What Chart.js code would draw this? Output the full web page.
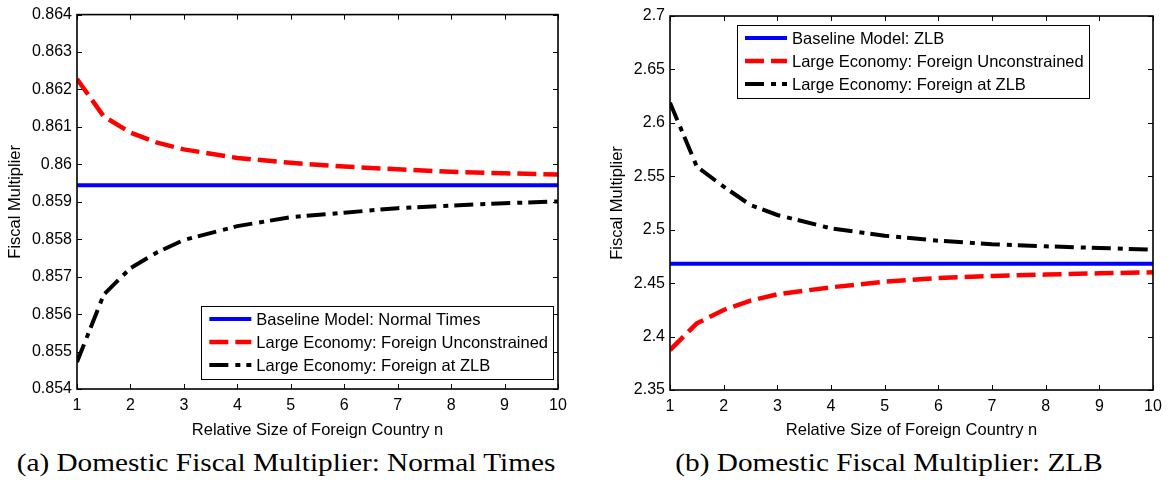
<!DOCTYPE html>
<html>
<head>
<meta charset="utf-8">
<script src="https://cdn.jsdelivr.net/npm/chart.js@4.4.1/dist/chart.umd.min.js"></script>
<style>
  html, body { margin: 0; padding: 0; background: #fff; width: 1169px; height: 482px; overflow: hidden; position: relative; }
  .box { position: absolute; top: 0; height: 440px; }
  #boxA { left: 0; width: 580px; }
  #boxB { left: 585px; width: 584px; }
  .cap { position: absolute; top: 449px; font-family: "Liberation Serif", serif; font-size: 25px; color: #000; white-space: nowrap; transform: translateX(-50%) scaleX(1.17); }
</style>
</head>
<body>
<div class="box" id="boxA"><canvas id="chartA"></canvas></div>
<div class="box" id="boxB"><canvas id="chartB"></canvas></div>
<div class="cap" style="left:286px">(a) Domestic Fiscal Multiplier: Normal Times</div>
<div class="cap" style="left:889px">(b) Domestic Fiscal Multiplier: ZLB</div>
<script>
// relative size of foreign country n
const sizes = [1, 1.5, 2, 2.5, 3, 4, 5, 6, 7, 8, 9, 10];

// (a) normal times
const baselineA = [0.85944, 0.85944, 0.85944, 0.85944, 0.85944, 0.85944, 0.85944, 0.85944, 0.85944, 0.85944, 0.85944, 0.85944];
const unconstrainedA = [0.86228, 0.86128, 0.86085, 0.86058, 0.86040, 0.86017, 0.86004, 0.85994, 0.85987, 0.85980, 0.85976, 0.85973];
const foreignZlbA = [0.85472, 0.85652, 0.85723, 0.85765, 0.85798, 0.85835, 0.85859, 0.85871, 0.85883, 0.85890, 0.85896, 0.85901];

// (b) ZLB
const baselineB = [2.4682, 2.4682, 2.4682, 2.4682, 2.4682, 2.4682, 2.4682, 2.4682, 2.4682, 2.4682, 2.4682, 2.4682];
const unconstrainedB = [2.3874, 2.4124, 2.4249, 2.4336, 2.4396, 2.4461, 2.4514, 2.4548, 2.4567, 2.4580, 2.4592, 2.4601];
const foreignZlbB = [2.6189, 2.5590, 2.5403, 2.5231, 2.5138, 2.5013, 2.4944, 2.4897, 2.4864, 2.4845, 2.4829, 2.4813];

const xTicks = [1, 2, 3, 4, 5, 6, 7, 8, 9, 10];
const yTicksA = [0.854, 0.855, 0.856, 0.857, 0.858, 0.859, 0.86, 0.861, 0.862, 0.863, 0.864];
const yTicksB = [2.35, 2.4, 2.45, 2.5, 2.55, 2.6, 2.65, 2.7];

const pts = ys => sizes.map((n, i) => ({ x: n, y: ys[i] }));

// matlab style box with inward ticks on all sides
const framePlugin = {
  id: 'frame',
  afterDatasetsDraw(chart) {
    const { ctx, chartArea: a, scales: { x, y } } = chart;
    ctx.save();
    ctx.strokeStyle = '#000';
    ctx.lineWidth = 1;
    ctx.beginPath();
    x.ticks.forEach(t => {
      const px = Math.round(x.getPixelForValue(t.value)) + 0.5;
      ctx.moveTo(px, a.bottom); ctx.lineTo(px, a.bottom - 5);
      ctx.moveTo(px, a.top); ctx.lineTo(px, a.top + 5);
    });
    y.ticks.forEach(t => {
      const py = Math.round(y.getPixelForValue(t.value)) + 0.5;
      ctx.moveTo(a.left, py); ctx.lineTo(a.left + 5, py);
      ctx.moveTo(a.right, py); ctx.lineTo(a.right - 5, py);
    });
    ctx.stroke();
    ctx.lineWidth = 1.6;
    ctx.strokeRect(a.left, a.top, a.right - a.left, a.bottom - a.top);
    ctx.restore();
  }
};

// legend box drawn inside the axes
const boxLegend = {
  id: 'boxLegend',
  afterDraw(chart, args, opts) {
    const { ctx, chartArea: a } = chart;
    ctx.save();
    ctx.font = '16.5px "Liberation Sans", Arial, sans-serif';
    const sets = chart.data.datasets;
    const tw = Math.max(...sets.map(d => ctx.measureText(d.label).width));
    const w = 8 + 42 + 5 + tw + 5, h = 73;
    let bx, by;
    if (opts.anchor === 'se') { bx = a.right + opts.dx - w; by = a.bottom + opts.dy - h; }
    else { bx = a.left + opts.dx; by = a.top + opts.dy; }
    ctx.fillStyle = '#fff';
    ctx.fillRect(bx, by, w, h);
    ctx.strokeStyle = '#000';
    ctx.lineWidth = 1;
    ctx.strokeRect(Math.round(bx) + 0.5, Math.round(by) + 0.5, Math.round(w), h);
    sets.forEach((d, i) => {
      const cy = by + 13 + i * 23;
      ctx.beginPath();
      ctx.setLineDash(d.borderDash || []);
      ctx.strokeStyle = d.borderColor;
      ctx.lineWidth = d.borderWidth;
      ctx.moveTo(bx + 8, cy); ctx.lineTo(bx + 50, cy);
      ctx.stroke();
      ctx.setLineDash([]);
      ctx.fillStyle = '#000';
      ctx.textBaseline = 'middle';
      ctx.fillText(d.label, bx + 55, cy + 1);
    });
    ctx.restore();
  }
};

function makeChart(id, base, unc, zlb, baseLabel, yTicks, digits, yWidth, xHeight, pad, legend, titlePad) {
  return new Chart(document.getElementById(id), {
    type: 'scatter',
    data: {
      datasets: [
        { label: baseLabel, data: pts(base), showLine: true, borderColor: '#0000ff', borderWidth: 4, pointRadius: 0 },
        { label: 'Large Economy: Foreign Unconstrained', data: pts(unc), showLine: true, borderColor: '#ff0000', borderWidth: 4.5, borderDash: [19, 7], pointRadius: 0 },
        { label: 'Large Economy: Foreign at ZLB', data: pts(zlb), showLine: true, borderColor: '#000000', borderWidth: 4, borderDash: [19, 7, 5, 6], pointRadius: 0 }
      ]
    },
    options: {
      responsive: true,
      maintainAspectRatio: false,
      animation: false,
      layout: { padding: pad },
      plugins: { legend: { display: false }, tooltip: { enabled: false }, boxLegend: legend },
      scales: {
        x: {
          type: 'linear', min: 1, max: 10,
          afterBuildTicks: s => { s.ticks = xTicks.map(v => ({ value: v })); },
          afterFit: s => { s.height = xHeight; },
          grid: { display: false, drawTicks: false },
          border: { display: false },
          ticks: { color: '#000', padding: 7, font: { family: '"Liberation Sans", Arial, sans-serif', size: 16 } },
          title: { display: true, text: 'Relative Size of Foreign Country n', color: '#000', padding: { top: 0, bottom: 0 }, font: { family: '"Liberation Sans", Arial, sans-serif', size: 16.5 } }
        },
        y: {
          type: 'linear', min: yTicks[0], max: yTicks[yTicks.length - 1],
          afterBuildTicks: s => { s.ticks = yTicks.map(v => ({ value: v })); },
          afterFit: s => { s.width = yWidth; },
          grid: { display: false, drawTicks: false },
          border: { display: false },
          ticks: { color: '#000', padding: 5, font: { family: '"Liberation Sans", Arial, sans-serif', size: 16 }, callback: v => String(+v.toFixed(digits)) },
          title: { display: true, text: 'Fiscal Multiplier', color: '#000', padding: titlePad, font: { family: '"Liberation Sans", Arial, sans-serif', size: 16.5 } }
        }
      }
    },
    plugins: [framePlugin, boxLegend]
  });
}

makeChart('chartA', baselineA, unconstrainedA, foreignZlbA, 'Baseline Model: Normal Times', yTicksA, 3,
  77, 51, { top: 10, right: 22, left: 0, bottom: 0 }, { anchor: 'se', dx: -5, dy: -10 }, { top: 6, bottom: 0 });
makeChart('chartB', baselineB, unconstrainedB, foreignZlbB, 'Baseline Model: ZLB', yTicksB, 2,
  85, 50, { top: 16, right: 16, left: 0, bottom: 0 }, { anchor: 'nw', dx: 67, dy: 9 }, { top: 23, bottom: 0 });
</script>
</body>
</html>
